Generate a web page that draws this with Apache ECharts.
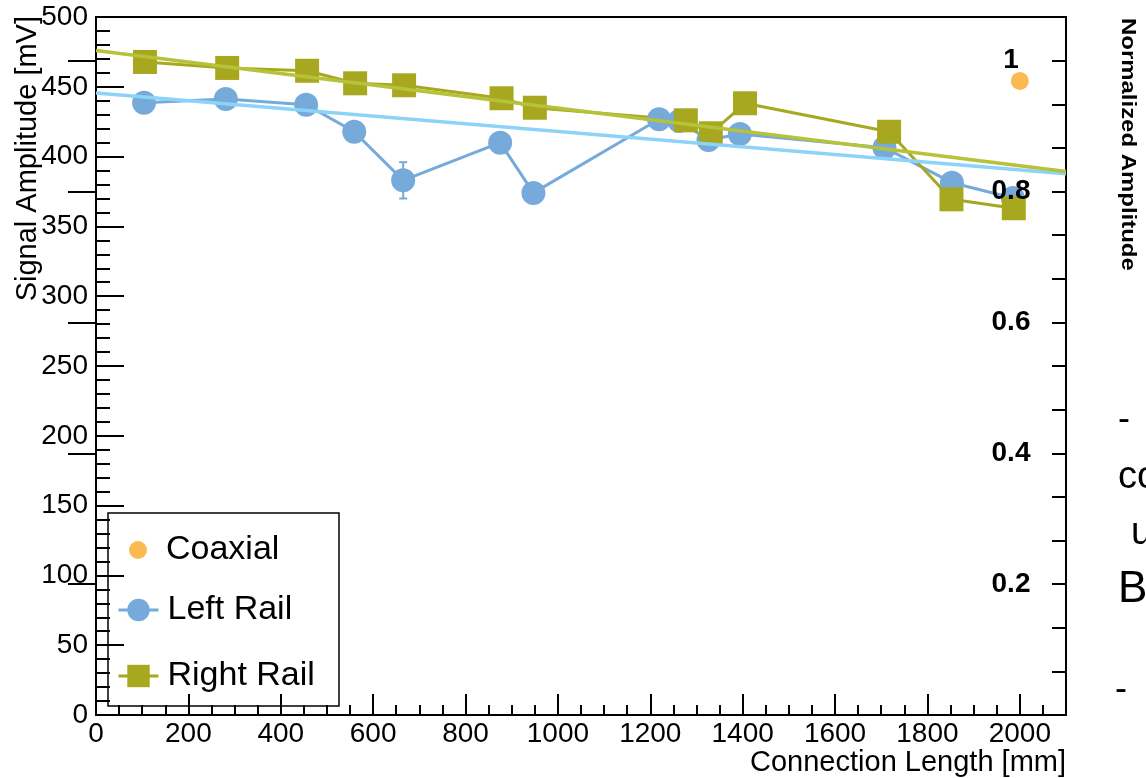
<!DOCTYPE html>
<html>
<head>
<meta charset="utf-8">
<title>Signal Amplitude vs Connection Length</title>
<script src="https://cdn.jsdelivr.net/npm/echarts@6/dist/echarts.min.js"></script>
<style>
html, body { margin: 0; padding: 0; background: #fff; }
#main { width: 1146px; height: 778px; }
</style>
</head>
<body>
<div id="main"></div>
<script>
// values (x in mm, y in mV)
var leftLength = [104, 281, 455, 559, 665, 875, 947, 1219, 1263, 1326, 1394, 1707, 1853, 1985];
var leftAmp = [438.6, 441.3, 437.2, 417.8, 383, 410, 374, 426.7, 425.5, 411.9, 416.2, 406.4, 381.3, 370.4];
var leftErr = [2, 2, 2, 2, 13, 2, 2, 2, 2, 2, 2, 2, 2, 2];

var rightLength = [106, 284, 457, 561, 667, 878, 950, 1277, 1331, 1405, 1717, 1852, 1987];
var rightAmp = [467.8, 463.5, 461.5, 452.5, 451.1, 441.8, 435, 426, 416.7, 438.2, 417.8, 369.4, 363];

var coaxLength = [2000];
var coaxAmp = [454.2];

// straight-line fits, end points
var fitLength = [0, 2100];
var leftFit = [445.6, 387.7];
var rightFit = [476, 389.3];

var FONT = '"Liberation Sans", Arial, Helvetica, sans-serif';
var BLUE = '#76aadb', OLIVE = '#a8a820', ORANGE = '#f9a825';

function zip(xs, ys) {
    return xs.map(function (x, i) { return [x, ys[i]]; });
}

var chart = echarts.init(document.getElementById('main'));

var option = {
    animation: false,
    backgroundColor: '#fff',
    grid: {
        left: 96, right: 80, top: 17, bottom: 63,
        show: true,
        borderColor: '#000',
        borderWidth: 2,
        backgroundColor: 'transparent'
    },
    legend: [
        {
            data: ['Coaxial'],
            orient: 'vertical',
            left: 129, top: 532,
            padding: 0,
            itemWidth: 18, itemHeight: 18,
            selectedMode: false,
            textStyle: { fontSize: 34, fontFamily: FONT, color: '#000', lineHeight: 36, padding: [0, 0, 0, 14] },
            z: 4
        },
        {
            data: ['Left Rail', 'Right Rail'],
            orient: 'vertical',
            left: 117, top: 592,
            padding: 0,
            itemGap: 30,
            itemWidth: 40, itemHeight: 28,
            selectedMode: false,
            lineStyle: { width: 3 },
            textStyle: { fontSize: 34, fontFamily: FONT, color: '#000', lineHeight: 36, padding: [0, 0, 0, 4] },
            z: 4
        }
    ],
    xAxis: [
        {
            type: 'value', min: 0, max: 2100, interval: 200, position: 'bottom',
            axisLine: { show: false },
            axisTick: { inside: true, length: 21, lineStyle: { color: '#000', width: 2 } },
            axisLabel: {
                showMaxLabel: false, fontSize: 28, fontFamily: FONT, color: '#000', margin: 5,
                formatter: function (v) { return String(v); }
            },
            splitLine: { show: false },
            z: 5
        },
        {
            type: 'value', min: 0, max: 2100, interval: 50, position: 'bottom',
            axisLine: { show: false },
            axisTick: { inside: true, length: 10, lineStyle: { color: '#000', width: 2 } },
            axisLabel: { show: false },
            splitLine: { show: false },
            z: 5
        }
    ],
    yAxis: [
        {
            type: 'value', min: 0, max: 500, interval: 50, position: 'left',
            axisLine: { show: false },
            axisTick: { inside: true, length: 28, lineStyle: { color: '#000', width: 2 } },
            minorTick: { show: true, splitNumber: 5, length: 14, lineStyle: { color: '#000', width: 2 } },
            axisLabel: { fontSize: 28, fontFamily: FONT, color: '#000', margin: 8 },
            splitLine: { show: false },
            minorSplitLine: { show: false },
            z: 5
        },
        {
            type: 'value', min: 0, max: 16 / 15, interval: 0.2, position: 'right',
            axisLine: { show: false },
            axisTick: { inside: true, length: 28, lineStyle: { color: '#000', width: 2 } },
            axisLabel: {
                inside: true, showMinLabel: false, showMaxLabel: false,
                align: 'center', margin: 55,
                fontSize: 28, fontWeight: 'bold', fontFamily: FONT, color: '#000'
            },
            splitLine: { show: false },
            z: 5
        },
        {
            type: 'value', min: 0, max: 16 / 15, interval: 1 / 15, position: 'right',
            axisLine: { show: false },
            axisTick: { inside: true, length: 14, lineStyle: { color: '#000', width: 2 } },
            axisLabel: { show: false },
            splitLine: { show: false },
            z: 5
        }
    ],
    series: [
        {
            name: 'Left Rail errors',
            type: 'custom',
            data: leftLength.map(function (x, i) { return [x, leftAmp[i], leftErr[i]]; }),
            renderItem: function (params, api) {
                var x = api.value(0), y = api.value(1), e = api.value(2);
                var hi = api.coord([x, y + e]), lo = api.coord([x, y - e]);
                var cap = 4;
                var st = { stroke: BLUE, lineWidth: 2 };
                return {
                    type: 'group',
                    children: [
                        { type: 'line', shape: { x1: hi[0], y1: hi[1], x2: lo[0], y2: lo[1] }, style: st },
                        { type: 'line', shape: { x1: hi[0] - cap, y1: hi[1], x2: hi[0] + cap, y2: hi[1] }, style: st },
                        { type: 'line', shape: { x1: lo[0] - cap, y1: lo[1], x2: lo[0] + cap, y2: lo[1] }, style: st }
                    ]
                };
            },
            z: 1
        },
        {
            name: 'Left Rail',
            type: 'line',
            data: zip(leftLength, leftAmp),
            symbol: 'circle',
            symbolSize: 24,
            itemStyle: { color: BLUE },
            lineStyle: { color: BLUE, width: 3 },
            z: 2
        },
        {
            name: 'Right Rail',
            type: 'line',
            data: zip(rightLength, rightAmp),
            symbol: 'rect',
            symbolSize: 24,
            itemStyle: { color: OLIVE },
            lineStyle: { color: OLIVE, width: 3 },
            z: 2
        },
        {
            name: 'Coaxial',
            type: 'scatter',
            data: zip(coaxLength, coaxAmp),
            symbol: 'circle',
            symbolSize: 18,
            itemStyle: { color: ORANGE },
            z: 2
        },
        {
            name: 'Left fit',
            type: 'line',
            data: zip(fitLength, leftFit),
            showSymbol: false,
            lineStyle: { color: '#8dd3f7', width: 3.5 },
            z: 3
        },
        {
            name: 'Right fit',
            type: 'line',
            data: zip(fitLength, rightFit),
            showSymbol: false,
            lineStyle: { color: '#b5c23a', width: 3.5 },
            z: 3
        }
    ],
    graphic: [
        // legend frame
        {
            type: 'rect', z: 3,
            shape: { x: 108, y: 513, width: 231, height: 193 },
            style: { fill: '#fff', stroke: '#000', lineWidth: 1.5 }
        },
        {
            type: 'text', x: 28, y: 16, rotation: Math.PI / 2,
            style: { text: 'Signal Amplitude [mV]', font: '29px ' + FONT, fill: '#000', textAlign: 'right', textVerticalAlign: 'middle' }
        },
        {
            type: 'text', x: 1066, y: 763,
            style: { text: 'Connection Length [mm]', font: '29px ' + FONT, fill: '#000', textAlign: 'right', textVerticalAlign: 'middle' }
        },
        {
            type: 'text', x: 1128, y: 18, rotation: -Math.PI / 2, scaleX: 1.14,
            style: { text: 'Normalized Amplitude', font: 'bold 21px ' + FONT, fill: '#000', textAlign: 'left', textVerticalAlign: 'middle' }
        },
        // slide text showing at the right edge
        { type: 'text', x: 1118, y: 420, style: { text: '-', font: '36px ' + FONT, fill: '#000', textVerticalAlign: 'middle' } },
        { type: 'text', x: 1118, y: 478, style: { text: 'co', font: '38px ' + FONT, fill: '#000', textVerticalAlign: 'middle' } },
        { type: 'text', x: 1131, y: 534, style: { text: 'u', font: '38px ' + FONT, fill: '#000', textVerticalAlign: 'middle' } },
        { type: 'text', x: 1118, y: 590, style: { text: 'B', font: '44px ' + FONT, fill: '#000', textVerticalAlign: 'middle' } },
        { type: 'text', x: 1115, y: 690, style: { text: '-', font: '36px ' + FONT, fill: '#000', textVerticalAlign: 'middle' } }
    ]
};

chart.setOption(option);
</script>
</body>
</html>
